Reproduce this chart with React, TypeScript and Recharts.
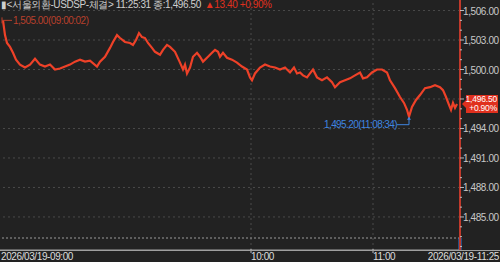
import React from "react";
import {
  LineChart,
  Line,
  XAxis,
  YAxis,
  ReferenceLine,
  ReferenceDot,
} from "recharts";

// trade sequence index (x) and traded price
const seq = [
  3, 5, 7, 10, 13, 16, 20, 25, 30, 35, 40, 45, 50, 55, 60, 65, 70, 75, 80, 85, 90, 97, 100, 105, 110, 113, 117, 120,
  125, 130, 133, 136, 139, 142, 145, 148, 152, 155, 160, 163, 167, 170, 175, 180, 183, 185, 187, 190, 193, 197, 200,
  203, 207, 212, 215, 218, 220, 223, 227, 232, 237, 242, 247, 250, 252, 255, 260, 265, 270, 275, 280, 285, 290, 294,
  297, 300, 303, 307, 310, 313, 317, 322, 327, 332, 335, 340, 345, 350, 355, 360, 363, 367, 372, 377, 382, 387, 390,
  395, 400, 404, 407, 409, 412, 416, 420, 425, 430, 435, 440, 443, 446, 449, 451, 453, 455, 457,
];
const price = [
  1505.0, 1503.5, 1502.7, 1502.3, 1501.7, 1501.0, 1500.5, 1500.2, 1500.5, 1501.1, 1500.5, 1500.3, 1500.5, 1500.0,
  1500.1, 1500.3, 1500.5, 1500.8, 1501.0, 1500.8, 1500.9, 1500.3, 1500.8, 1501.3, 1502.2, 1502.8, 1503.5, 1503.2,
  1502.8, 1502.7, 1502.5, 1503.0, 1503.7, 1503.3, 1503.2, 1502.7, 1502.2, 1501.8, 1501.5, 1502.0, 1502.5, 1502.3,
  1501.8, 1500.7, 1500.0, 1500.5, 1499.6, 1500.2, 1501.3, 1501.7, 1501.3, 1500.8, 1501.2, 1501.7, 1502.0, 1501.8,
  1501.3, 1501.7, 1501.2, 1501.0, 1500.7, 1500.3, 1500.0, 1499.2, 1498.9, 1499.6, 1500.2, 1500.5, 1500.3, 1500.2,
  1500.0, 1500.2, 1499.7, 1500.2, 1499.6, 1499.7, 1499.4, 1499.2, 1499.6, 1500.0, 1499.2, 1498.9, 1499.2, 1498.7,
  1498.2, 1498.7, 1498.9, 1499.1, 1499.4, 1499.7, 1499.1, 1499.2, 1499.7, 1500.0, 1500.0, 1499.7, 1498.9, 1498.1,
  1497.2, 1496.6, 1495.9, 1495.2, 1496.2, 1496.9, 1497.4, 1498.1, 1498.2, 1498.4, 1498.2, 1497.9, 1497.2, 1496.4,
  1495.9, 1496.6, 1496.1, 1496.5,
];

const xTickSeq = [0, 251, 373, 460];
const xTickLabels = ["2026/03/19-09:00", "10:00", "11:00", "2026/03/19-11:25"];
const yMajorTicks = [1485, 1488, 1491, 1494, 1497, 1500, 1503, 1506];
const yAllTicks = [
  1482, 1483, 1484, 1485, 1486, 1487, 1488, 1489, 1490, 1491, 1492, 1493, 1494, 1495, 1496, 1497, 1498, 1499, 1500,
  1501, 1502, 1503, 1504, 1505, 1506,
];
const yDomain: [number, number] = [1481.64, 1507.07];
const xDomain: [number, number] = [0, 460];
const lastPrice = 1496.5;
const changeText = "+0.90%";
const openPoint = { seq: 3, price: 1505.0, label: "1,505.00(09:00:02)" };
const lowPoint = { seq: 409, price: 1495.2, label: "1,495.20(11:08:34)" };
const volumeBase = 1482.86;
const headerGrey = "▮<서울외환-USDSP-체결> 11:25:31 종:1,496.50";
const headerRed = "▲13.40 +0.90%";

const data = seq.map((s, i) => ({ seq: s, price: price[i] }));

const FONT = "'Liberation Sans', Arial, sans-serif";
const BG = "#222222";
const LINE = "#ee4128";

const fmt = (v: number) =>
  v.toLocaleString("en-US", { minimumFractionDigits: 2, maximumFractionDigits: 2 });

const YTick = (props: any) => {
  const { x, y, payload } = props;
  const v = payload.value as number;
  const major = yMajorTicks.includes(v);
  return (
    <g>
      <line x1={x} x2={x + (major ? 4 : 2)} y1={y} y2={y} stroke="#bbbbbb" strokeWidth={1} />
      {major && v !== 1497 ? (
        <text x={x + 3} y={y + 4} fill="#c8c8c8" fontSize={10} fontFamily={FONT} letterSpacing={-0.4}>
          {fmt(v)}
        </text>
      ) : null}
    </g>
  );
};

const XTick = (props: any) => {
  const { x, y, payload } = props;
  const i = xTickSeq.indexOf(payload.value);
  const label = xTickLabels[i];
  const last = i === xTickSeq.length - 1;
  return (
    <g>
      {i === 1 || i === 2 ? <line x1={x} x2={x} y1={y - 1} y2={y + 3} stroke="#bbbbbb" /> : null}
      <text
        x={last ? x + 39 : x + (i === 0 ? 1 : 0)}
        y={y + 10}
        fill="#dddddd"
        fontSize={10}
        fontFamily={FONT}
        letterSpacing={-0.4}
        textAnchor={last ? "end" : "start"}
      >
        {label}
      </text>
    </g>
  );
};

const OpenMark = (props: any) => {
  const { cx, cy } = props;
  return (
    <g>
      <line x1={cx - 1} x2={cx - 1} y1={cy - 3} y2={cy + 3} stroke="#b8402c" strokeWidth={1} />
      <line x1={cx - 1} x2={cx + 9} y1={cy} y2={cy} stroke="#b8402c" strokeWidth={1} />
      <text x={cx + 10} y={cy + 3.5} fill="#b8402c" fontSize={10} fontFamily={FONT} letterSpacing={-0.5}>
        {openPoint.label}
      </text>
    </g>
  );
};

const LowMark = (props: any) => {
  const { cx, cy } = props;
  return (
    <g>
      <path d={`M${cx - 12} ${cy + 8} H${cx} V${cy + 1}`} stroke="#3f86e0" strokeWidth={1} fill="none" />
      <path d={`M${cx} ${cy} l-2 3 h4 z`} fill="#3f86e0" />
      <text
        x={cx - 12}
        y={cy + 11.5}
        fill="#3f86e0"
        fontSize={10}
        fontFamily={FONT}
        letterSpacing={-0.6}
        textAnchor="end"
      >
        {lowPoint.label}
      </text>
    </g>
  );
};

const PriceBox = (props: any) => {
  const { cx, cy } = props;
  return (
    <g>
      <path d={`M${cx + 2} ${cy} l4 -4 v-5 h32 v18 h-32 v-5 z`} fill="#e0301e" />
      <text x={cx + 37} y={cy - 1.5} fill="#ffffff" fontSize={8.5} fontFamily={FONT} textAnchor="end" letterSpacing={-0.2}>
        {fmt(lastPrice)}
      </text>
      <text x={cx + 37} y={cy + 7.5} fill="#ffffff" fontSize={8.5} fontFamily={FONT} textAnchor="end" letterSpacing={-0.2}>
        {changeText}
      </text>
    </g>
  );
};

export default function App() {
  return (
    <div style={{ position: "fixed", left: 0, top: 0, width: 500, height: 262, background: BG }}>
      <LineChart width={500} height={262} data={data} margin={{ top: 0, right: 0, bottom: 0, left: 0 }}>
        {yMajorTicks.map((v) => (
          <ReferenceLine key={"h" + v} y={v} stroke="#4a4a4a" strokeDasharray="2 3" />
        ))}
        {xTickSeq.slice(1, 3).map((v) => (
          <ReferenceLine key={"v" + v} x={v} stroke="#4a4a4a" strokeDasharray="2 3" />
        ))}
        <ReferenceLine y={volumeBase} stroke="#9a9a9a" strokeDasharray="2 2" />
        <XAxis
          dataKey="seq"
          type="number"
          domain={xDomain}
          ticks={xTickSeq}
          interval={0}
          height={12}
          axisLine={{ stroke: "#a0a0a0" }}
          tickLine={false}
          tick={<XTick />}
          tickSize={0}
          tickMargin={0}
          allowDataOverflow
        />
        <YAxis
          orientation="right"
          type="number"
          domain={yDomain}
          ticks={yAllTicks}
          width={40}
          axisLine={{ stroke: "#c0392b", strokeWidth: 2 }}
          tickLine={false}
          tick={<YTick />}
          tickSize={0}
          tickMargin={0}
          interval={0}
          allowDataOverflow
        />
        <Line
          type="linear"
          dataKey="price"
          stroke={LINE}
          strokeWidth={2.2}
          strokeLinejoin="miter"
          dot={false}
          activeDot={false}
          isAnimationActive={false}
        />
        <ReferenceLine
          segment={[
            { x: xDomain[1], y: yDomain[0] },
            { x: xDomain[1], y: volumeBase },
          ]}
          stroke="#2f7de0"
          strokeWidth={3}
        />
        <ReferenceDot x={openPoint.seq} y={openPoint.price} r={0} fill="none" stroke="none" shape={<OpenMark />} ifOverflow="visible" />
        <ReferenceDot x={lowPoint.seq} y={lowPoint.price} r={0} fill="none" stroke="none" shape={<LowMark />} ifOverflow="visible" />
        <ReferenceDot x={xDomain[1]} y={lastPrice} r={0} fill="none" stroke="none" shape={<PriceBox />} ifOverflow="visible" />
      </LineChart>
      <svg width={500} height={262} style={{ position: "absolute", left: 0, top: 0, pointerEvents: "none" }}>
        <line x1={0} x2={500} y1={250.5} y2={250.5} stroke="#a0a0a0" strokeWidth={1} />
        <text x={1} y={8} fontSize={10} fontFamily={FONT} letterSpacing={-0.4}>
          <tspan fill="#cfcfcf">{headerGrey}</tspan>
          <tspan fill="#e0301e" dx={4}>
            {headerRed}
          </tspan>
        </text>
      </svg>
    </div>
  );
}
